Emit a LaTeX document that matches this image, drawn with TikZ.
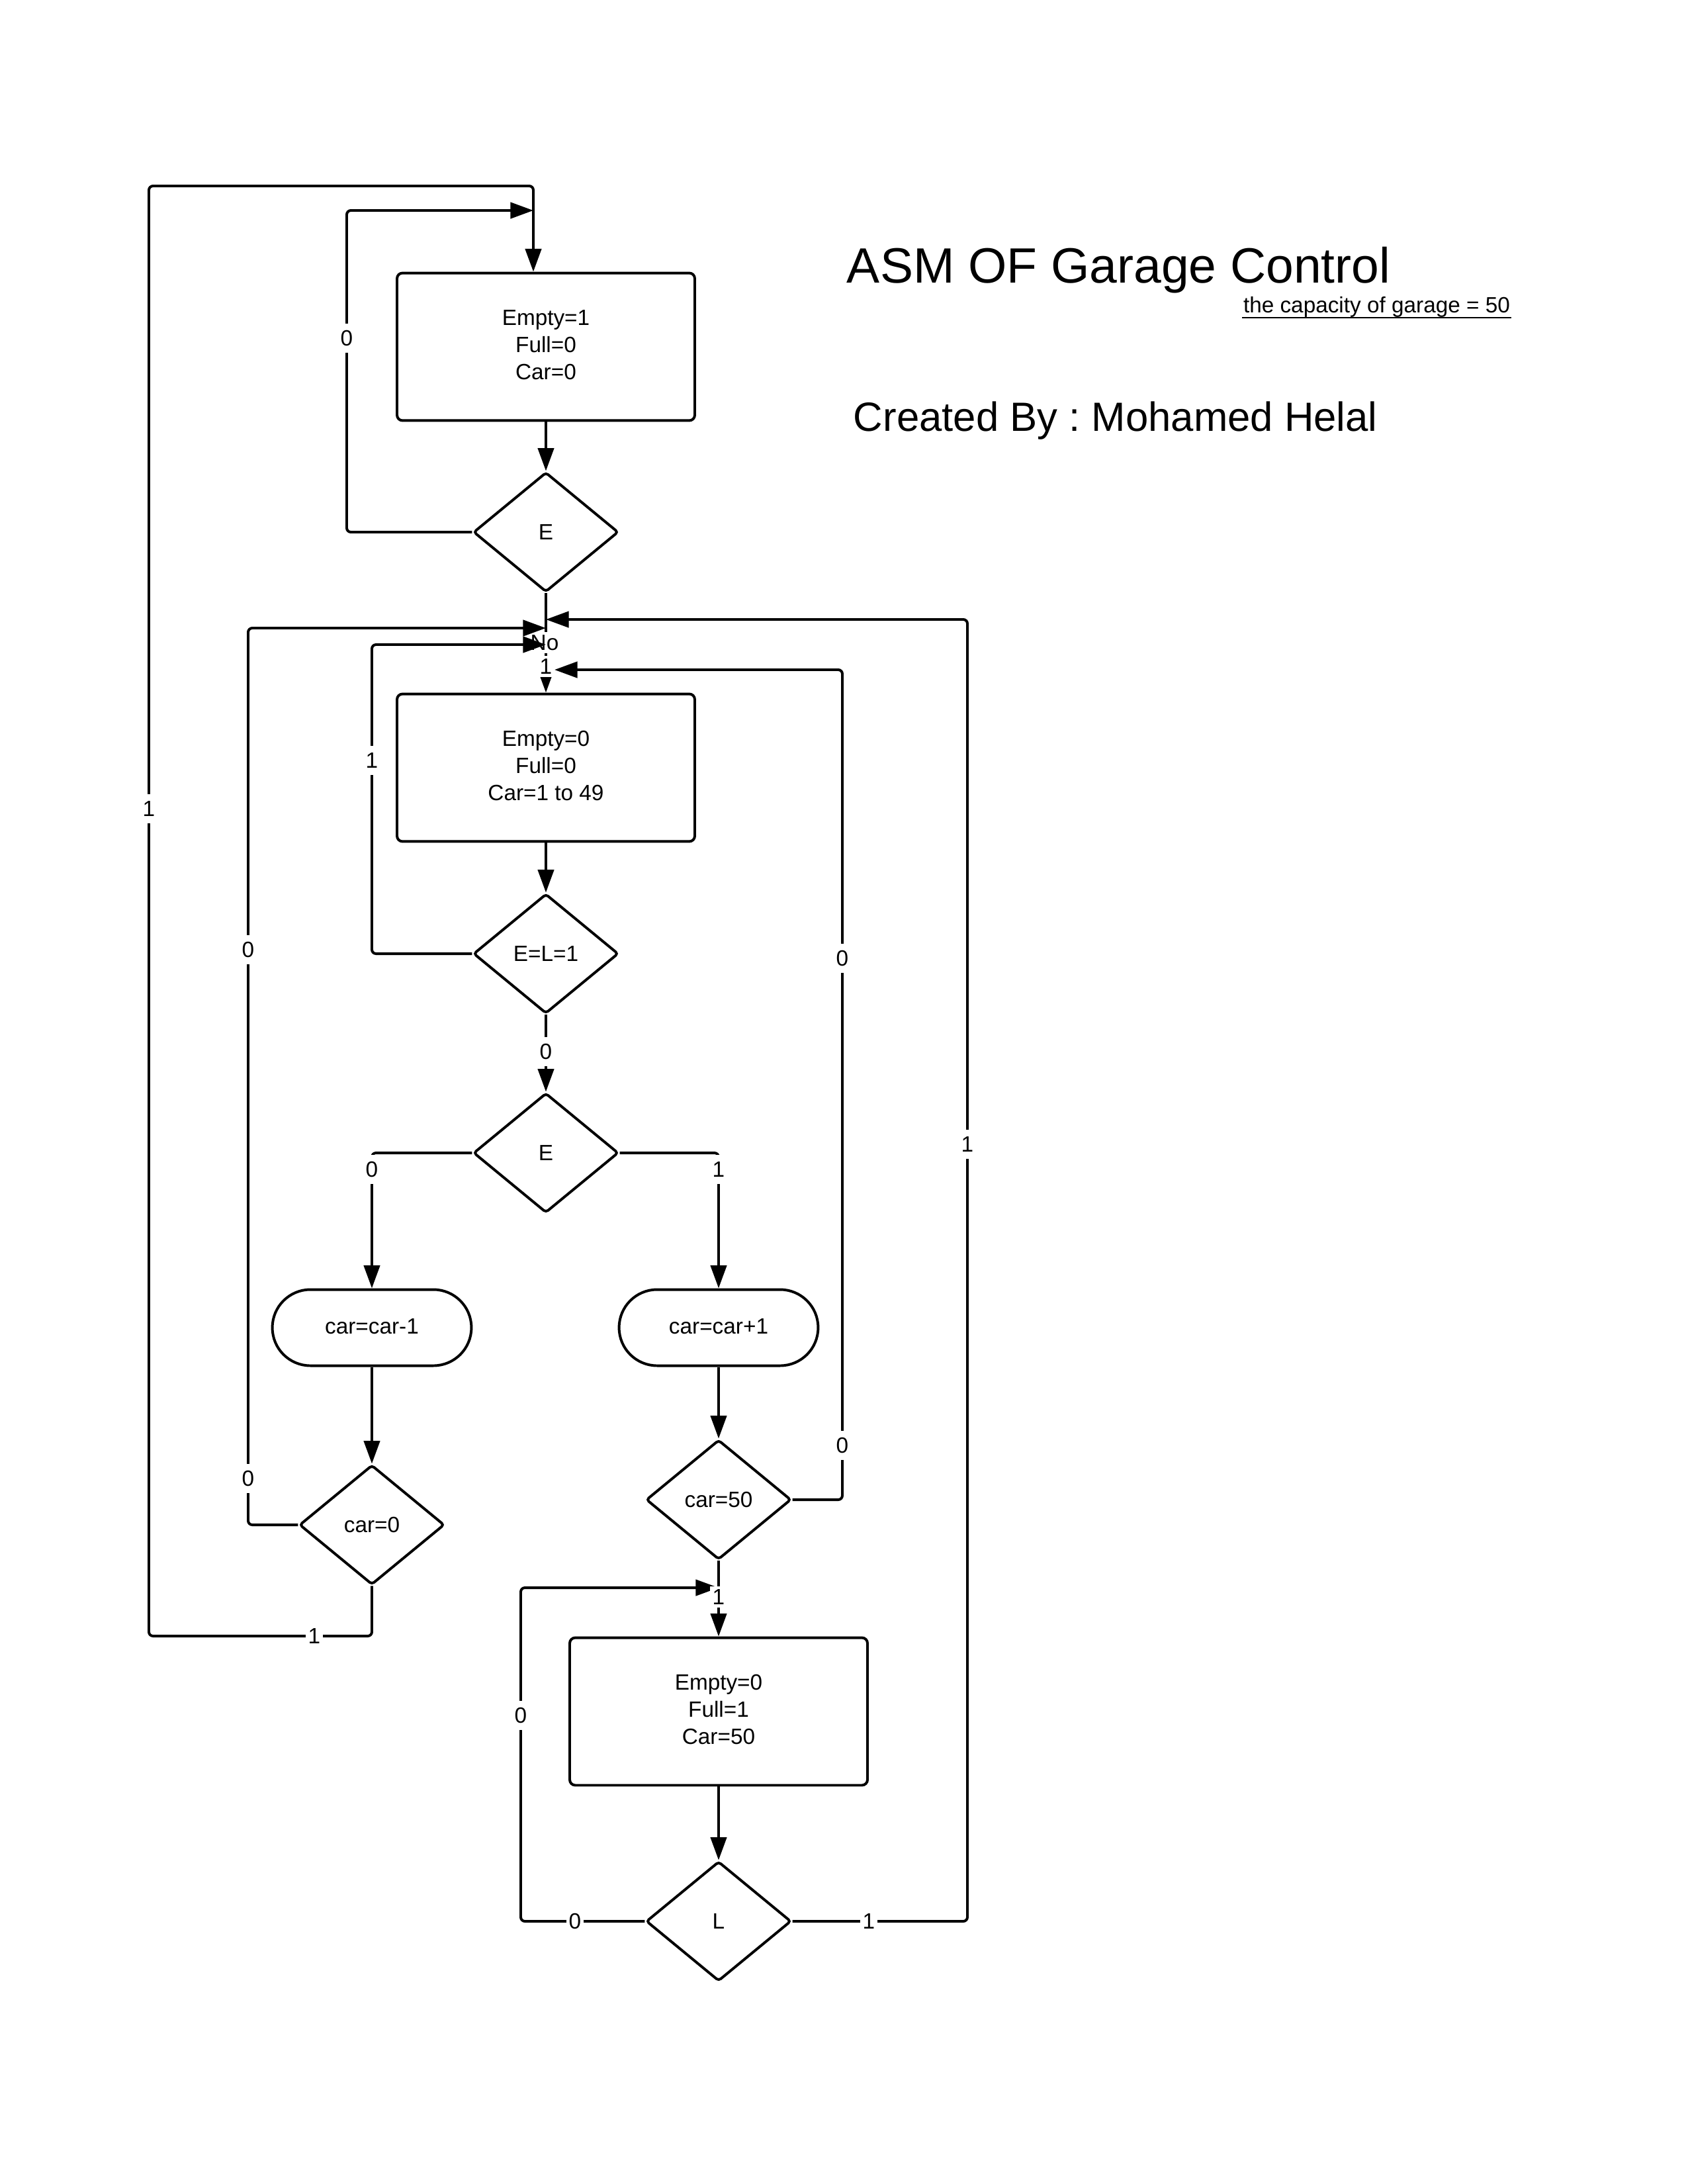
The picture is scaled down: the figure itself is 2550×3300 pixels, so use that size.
\documentclass[tikz,border=0pt]{standalone}
\usepackage{fontspec}
\setmainfont{Liberation Sans}
\usetikzlibrary{shapes.geometric,shapes.misc,arrows.meta}
\newcommand{\boxtext}[1]{\raisebox{1pt}{\begin{tabular}{@{}c@{}}#1\end{tabular}}}
\begin{document}
\begin{tikzpicture}[x=0.24pt,y=-0.24pt,
  line width=0.95pt,
  every node/.style={font=\fontsize{8}{9.8}\selectfont},
  statebox/.style={draw,rounded corners=2pt,minimum width=108pt,minimum height=53.5pt,align=center,inner sep=0pt},
  decision/.style={draw,diamond,minimum width=52.6pt,minimum height=43.4pt,inner sep=0pt,rounded corners=1pt},
  opbox/.style={draw,rounded rectangle,minimum width=72.2pt,minimum height=27.6pt,inner sep=0pt},
  lbl/.style={fill=white,inner xsep=1pt,inner ysep=2.5pt},
  conn/.style={rounded corners=1.5pt},
  arr/.style={conn,-{Triangle[length=8.3pt,width=5.8pt]}},
]
\useasboundingbox (0,0) rectangle (2550,3300);

% title texts
\node[anchor=base west,inner sep=0pt,font=\fontsize{18}{21.6}\selectfont] (title) at (1278,427) {ASM OF Garage Control};
\node[anchor=base west,inner sep=0pt] (cap) at (1877,472) {the capacity of garage = 50};
\draw[line width=0.55pt] ([yshift=-2pt]cap.base west) -- ([yshift=-2pt]cap.base east);
\node[anchor=base west,inner sep=0pt,font=\fontsize{14.8}{18}\selectfont] (author) at (1288,651) {\frenchspacing Created By : Mohamed Helal};

% nodes
\node[statebox] (s1) at (825,524) {\boxtext{Empty=1\\Full=0\\Car=0}};
\node[decision] (dE1) at (825,804) {E};
\node[statebox] (s2) at (825,1160) {\boxtext{Empty=0\\Full=0\\Car=1 to 49}};
\node[decision] (dEL) at (825,1441) {E=L=1};
\node[decision] (dE2) at (825,1742) {E};
\node[opbox] (dec) at (562,2006) {\raisebox{1pt}{car=car-1}};
\node[opbox] (inc) at (1086,2006) {\raisebox{1pt}{car=car+1}};
\node[decision] (d0) at (562,2304) {car=0};
\node[decision] (d50) at (1086,2266) {car=50};
\node[statebox] (s3) at (1086,2586) {\boxtext{Empty=0\\Full=1\\Car=50}};
\node[decision] (dL) at (1086,2903) {L};

% junction coordinates
\coordinate (j1) at (806,281);
\coordinate (j0) at (806,318);
\coordinate (mR1) at (825,936);
\coordinate (mL0) at (825,949);
\coordinate (mL1) at (825,974);
\coordinate (mR0) at (838,1012);
\coordinate (mB0) at (1086,2399);

% main connectors
\draw[arr] (s1.south) -- (dE1.north);
\draw[arr] (dE1.south) -- (s2.north);
\node[fill=white,inner sep=1pt] (lno) at (823,971) {No};
\node[fill=white,inner sep=1pt] (lone) at (825,1007) {1};
\draw[arr] (s2.south) -- (dEL.north);
\draw[arr] (dEL.south) -- (dE2.north);
\draw[arr] (dE2.west) -| (dec.north);
\draw[arr] (dE2.east) -| (inc.north);
\draw[arr] (dec.south) -- (d0.north);
\draw[arr] (inc.south) -- (d50.north);
\draw[arr] (d50.south) -- (s3.north);
\draw[arr] (s3.south) -- (dL.north);

% loops
\draw[arr] (d0.south) |- (225,2472) |- (j1) -- (j1 |- s1.north);
\draw[arr] (dE1.west) -| (524,318) -- (j0);
\draw[arr] (dL.east) -| (1462,936) -- (mR1);
\draw[arr] (d0.west) -| (375,949) -- (mL0);
\draw[arr] (dEL.west) -| (562,974) -- (mL1);
\draw[arr] (d50.east) -| (1273,1012) -- (mR0);
\draw[arr] (dL.west) -| (787,2399) -- (mB0);

% labels
\node[lbl] (l1) at (225,1222) {1};
\node[lbl,inner ysep=1pt] (l2) at (475,2472) {1};
\node[lbl] (l3) at (524,511) {0};
\node[lbl] (l4) at (1462,1729) {1};
\node[lbl,inner ysep=1pt] (l5) at (1313,2903) {1};
\node[lbl] (l6) at (375,1435) {0};
\node[lbl] (l7) at (375,2234) {0};
\node[lbl] (l8) at (562,1149) {1};
\node[lbl] (l9) at (1273,1448) {0};
\node[lbl] (l10) at (1273,2184) {0};
\node[lbl,inner ysep=1pt] (l11) at (869,2903) {0};
\node[lbl] (l12) at (787,2592) {0};
\node[lbl] (l13) at (825,1589) {0};
\node[lbl] (l14) at (562,1767) {0};
\node[lbl] (l15) at (1086,1767) {1};
\node[lbl,inner ysep=1pt] (l16) at (1086,2413) {1};
\end{tikzpicture}
\end{document}
